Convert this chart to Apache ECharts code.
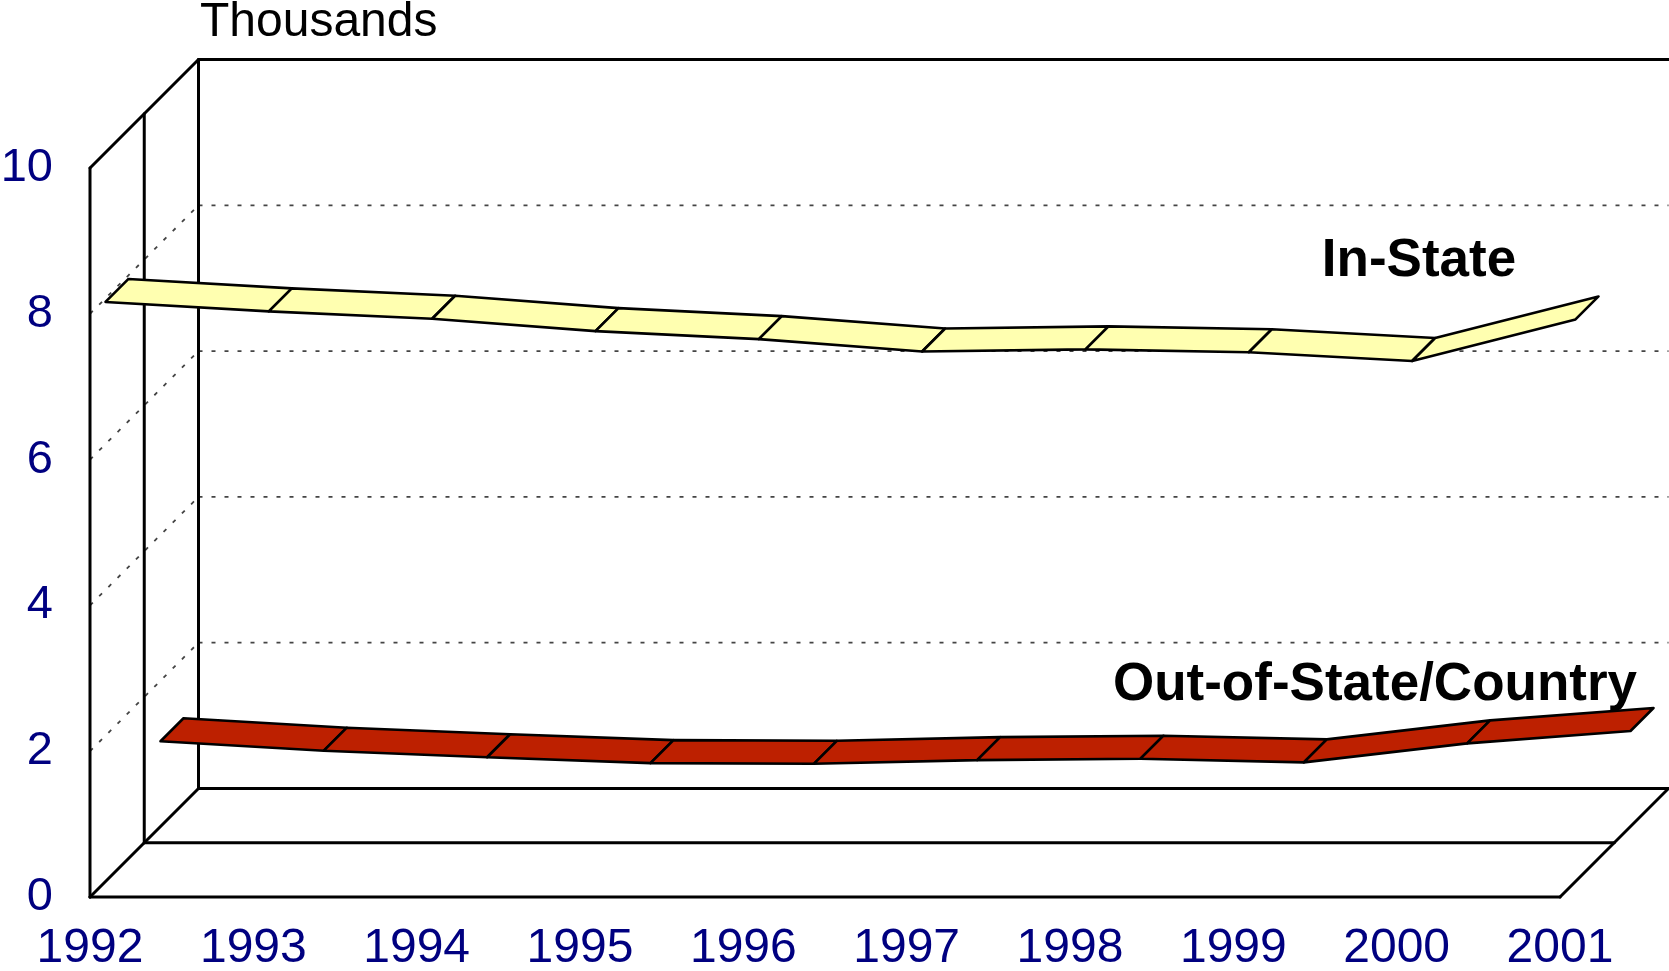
<!DOCTYPE html>
<html>
<head>
<meta charset="utf-8">
<script src="https://cdn.jsdelivr.net/npm/echarts@6/dist/echarts.min.js"></script>
<style>
html, body { margin: 0; padding: 0; background: #fff; }
#main { width: 1669px; height: 971px; }
</style>
</head>
<body>
<div id="main"></div>
<script>
// enrollment, thousands
const years = ['1992', '1993', '1994', '1995', '1996', '1997', '1998', '1999', '2000', '2001'];
const inState = [7.95, 7.82, 7.72, 7.55, 7.44, 7.27, 7.30, 7.26, 7.14, 7.71];
const outState = [1.17, 1.04, 0.95, 0.87, 0.86, 0.91, 0.93, 0.88, 1.14, 1.31];
const yMin = 0, yMax = 10, yStep = 2;
const wallGrid = [2, 4, 6, 8];

const FONT = "'Liberation Sans', Arial, sans-serif";
const DEPTH = 108.5;   // px, 45 degree depth of the box
const HALF = 11.5;     // half width of a ribbon
const NAVY = '#000080';

const chart = echarts.init(document.getElementById('main'));

function ribbon(values, fill, center) {
    return function (params, api) {
        const i = api.value(0);
        if (i >= values.length - 1) return null;
        const a = api.coord([i, values[i]]);
        const b = api.coord([i + 1, values[i + 1]]);
        const d1 = center - HALF, d2 = center + HALF;
        return {
            type: 'polygon',
            shape: {
                points: [
                    [a[0] + d1, a[1] - d1], [b[0] + d1, b[1] - d1],
                    [b[0] + d2, b[1] - d2], [a[0] + d2, a[1] - d2]
                ]
            },
            style: { fill: fill, stroke: '#000', lineWidth: 2.6, lineJoin: 'round' }
        };
    };
}

function line(x1, y1, x2, y2, style) {
    return { type: 'line', shape: { x1: x1, y1: y1, x2: x2, y2: y2 }, style: style };
}

function frame(params, api) {
    const last = years.length - 1;
    const p00 = api.coord([0, yMin]);
    const p0t = api.coord([0, yMax]);
    const p90 = api.coord([last, yMin]);
    const D = DEPTH, H = DEPTH / 2;
    const solid = { stroke: '#000', lineWidth: 3, lineCap: 'round' };
    const dots = { stroke: '#444', lineWidth: 1.8, lineDash: [4, 9] };
    const kids = [];
    wallGrid.forEach(function (v) {
        const p = api.coord([0, v]);
        const q = api.coord([last, v]);
        kids.push(line(p[0] + D, p[1] - D, q[0] + D, q[1] - D, dots));
        kids.push(line(p[0], p[1], p[0] + D, p[1] - D, dots));
    });
    // left wall
    kids.push(line(p00[0], p00[1], p0t[0], p0t[1], solid));
    kids.push(line(p00[0] + H, p00[1] - H, p0t[0] + H, p0t[1] - H, solid));
    kids.push(line(p00[0] + D, p00[1] - D, p0t[0] + D, p0t[1] - D, solid));
    kids.push(line(p0t[0], p0t[1], p0t[0] + D, p0t[1] - D, solid));
    // back wall top
    kids.push(line(p0t[0] + D, p0t[1] - D, p90[0] + D, p0t[1] - D, solid));
    // floor
    kids.push(line(p00[0], p00[1], p90[0], p90[1], solid));
    kids.push(line(p00[0] + H, p00[1] - H, p90[0] + H, p90[1] - H, solid));
    kids.push(line(p00[0] + D, p00[1] - D, p90[0] + D, p90[1] - D, solid));
    kids.push(line(p00[0], p00[1], p00[0] + D, p00[1] - D, solid));
    kids.push(line(p90[0], p90[1], p90[0] + D, p90[1] - D, solid));
    return { type: 'group', children: kids };
}

const option = {
    backgroundColor: '#fff',
    animation: false,
    grid: { left: 90, right: 109, top: 168, bottom: 74, outerBoundsMode: 'none', containLabel: false },
    xAxis: {
        type: 'category',
        data: years,
        boundaryGap: false,
        axisLine: { show: false },
        axisTick: { show: false },
        splitLine: { show: false },
        axisLabel: { interval: 0, color: NAVY, fontSize: 48, fontFamily: FONT, margin: 28 }
    },
    yAxis: {
        type: 'value',
        min: yMin,
        max: yMax,
        interval: yStep,
        axisLine: { show: false },
        axisTick: { show: false },
        splitLine: { show: false },
        axisLabel: { color: NAVY, fontSize: 47, fontFamily: FONT, margin: 37 }
    },
    graphic: [
        {
            type: 'text', x: 200, y: 23, z: 10,
            style: { text: 'Thousands', fill: '#000', font: '48px ' + FONT, textVerticalAlign: 'middle', verticalAlign: 'middle' }
        },
        {
            type: 'text', x: 1419, y: 261, z: 10,
            style: { text: 'In-State', fill: '#000', font: 'bold 53px ' + FONT, textAlign: 'center', align: 'center', textVerticalAlign: 'middle', verticalAlign: 'middle' }
        },
        {
            type: 'text', x: 1375, y: 685, z: 10,
            style: { text: 'Out-of-State/Country', fill: '#000', font: 'bold 53px ' + FONT, textAlign: 'center', align: 'center', textVerticalAlign: 'middle', verticalAlign: 'middle' }
        }
    ],
    series: [
        {
            name: 'frame',
            type: 'custom',
            clip: false,
            silent: true,
            z: 1,
            renderItem: frame,
            data: [[0, 0]]
        },
        {
            name: 'Out-of-State/Country',
            type: 'custom',
            clip: false,
            silent: true,
            z: 2,
            renderItem: ribbon(outState, '#BD2000', 82),
            data: outState.map(function (v, i) { return [i, v]; })
        },
        {
            name: 'In-State',
            type: 'custom',
            clip: false,
            silent: true,
            z: 3,
            renderItem: ribbon(inState, '#FFFFB0', 27),
            data: inState.map(function (v, i) { return [i, v]; })
        }
    ]
};

chart.setOption(option);
</script>
</body>
</html>
